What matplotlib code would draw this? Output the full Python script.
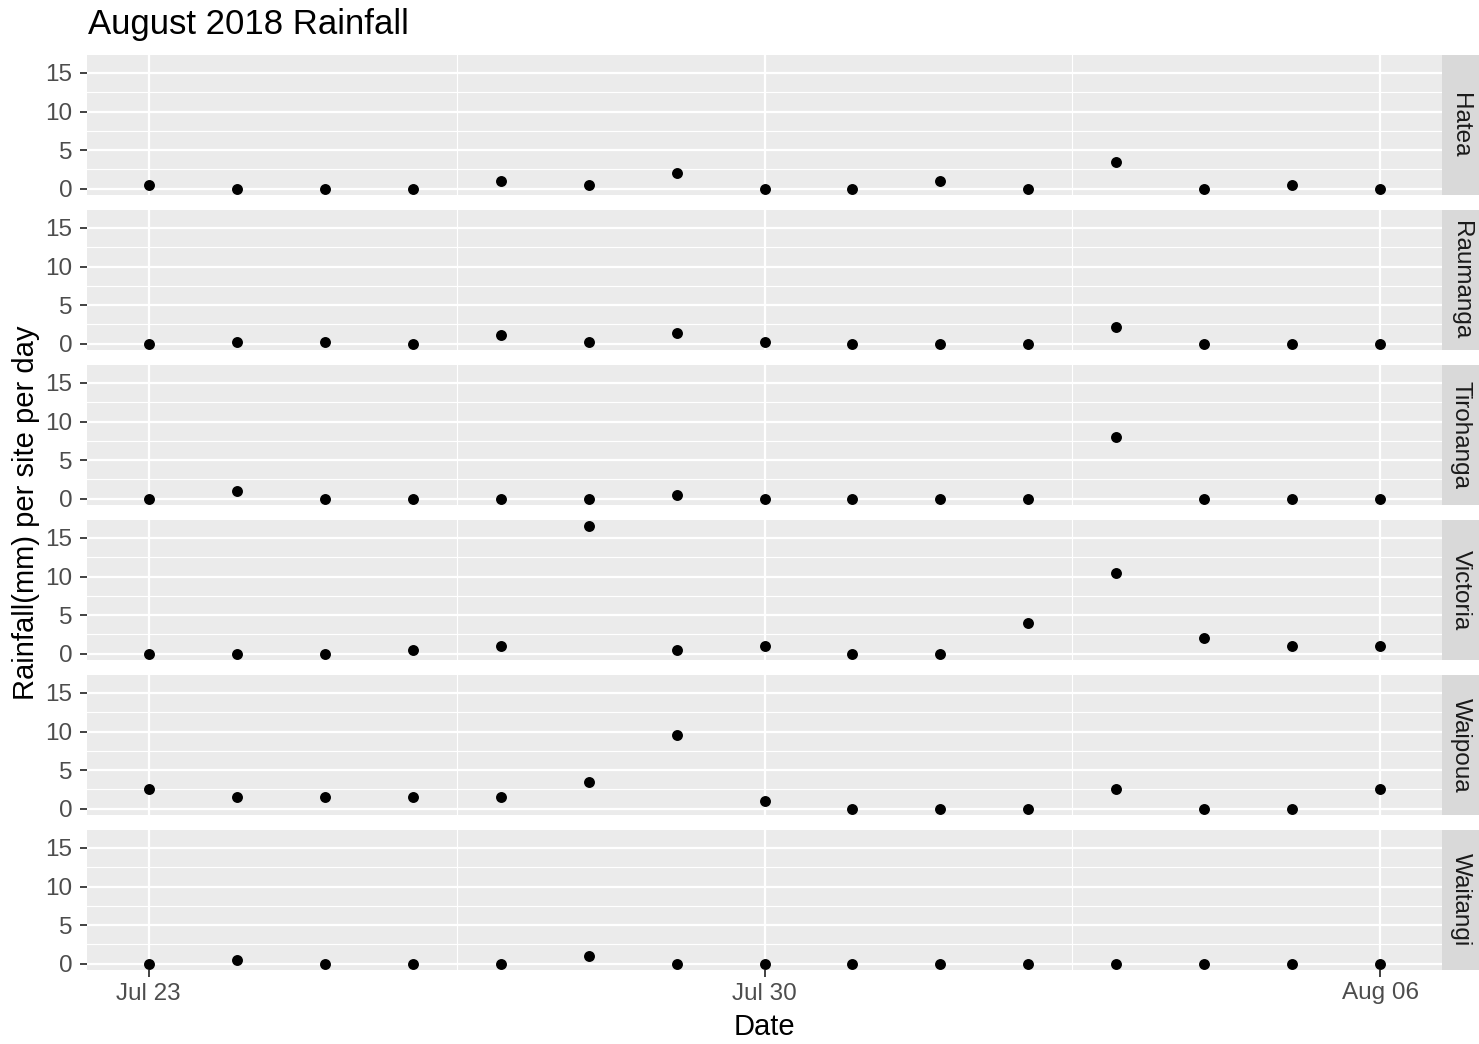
import numpy as np
import matplotlib
matplotlib.use("Agg")
import matplotlib.pyplot as plt
import matplotlib.dates as mdates
from matplotlib.ticker import FixedLocator

plt.rcParams['font.family'] = ['Liberation Sans', 'DejaVu Sans']

# ---- data ----
dates = ["2018-07-23", "2018-07-24", "2018-07-25", "2018-07-26", "2018-07-27",
         "2018-07-28", "2018-07-29", "2018-07-30", "2018-07-31", "2018-08-01",
         "2018-08-02", "2018-08-03", "2018-08-04", "2018-08-05", "2018-08-06"]
sites = ["Hatea", "Raumanga", "Tirohanga", "Victoria", "Waipoua", "Waitangi"]
hatea     = [0.5, 0, 0, 0, 1, 0.5, 2, 0, 0, 1, 0, 3.5, 0, 0.5, 0]
raumanga  = [0, 0.2, 0.2, 0, 1.1, 0.2, 1.4, 0.2, 0, 0, 0, 2.1, 0, 0, 0]
tirohanga = [0, 1, 0, 0, 0, 0, 0.5, 0, 0, 0, 0, 8, 0, 0, 0]
victoria  = [0, 0, 0, 0.5, 1, 16.5, 0.5, 1, 0, 0, 4, 10.5, 2, 1, 1]
waipoua   = [2.5, 1.5, 1.5, 1.5, 1.5, 3.5, 9.5, 1, 0, 0, 0, 2.5, 0, 0, 2.5]
waitangi  = [0, 0.5, 0, 0, 0, 1, 0, 0, 0, 0, 0, 0, 0, 0, 0]
series = [hatea, raumanga, tirohanga, victoria, waipoua, waitangi]
x_major = ["2018-07-23", "2018-07-30", "2018-08-06"]
x_major_labels = ["Jul 23", "Jul 30", "Aug 06"]
x_minor = ["2018-07-26 12:00", "2018-08-02 12:00"]
y_major = [0, 5, 10, 15]
y_minor = [2.5, 7.5, 12.5]

xd = mdates.date2num(np.array(dates, dtype="datetime64[m]"))
xmaj = mdates.date2num(np.array(x_major, dtype="datetime64[m]"))
xmin_ = mdates.date2num(np.array(x_minor, dtype="datetime64[m]"))

W, H = 1479, 1044
fig = plt.figure(figsize=(W / 100, H / 100), dpi=100)

left, right, top, ph, gap = 87, 1442, 55, 140, 15
strip_w = 37

allv = np.concatenate([np.array(s, float) for s in series])
ymin, ymax = allv.min(), allv.max()
yexp = 0.05 * (ymax - ymin)
xexp = 0.05 * (xd.max() - xd.min())

bg = "#EBEBEB"
for i, (site, vals) in enumerate(zip(sites, series)):
    y0 = top + i * (ph + gap)
    ax = fig.add_axes([left / W, 1 - (y0 + ph) / H, (right - left) / W, ph / H])
    ax.set_facecolor(bg)
    for sp in ax.spines.values():
        sp.set_visible(False)
    ax.set_xlim(xd.min() - xexp, xd.max() + xexp)
    ax.set_ylim(ymin - yexp, ymax + yexp)
    ax.xaxis.set_major_locator(FixedLocator(xmaj))
    ax.xaxis.set_minor_locator(FixedLocator(xmin_))
    ax.yaxis.set_major_locator(FixedLocator(y_major))
    ax.yaxis.set_minor_locator(FixedLocator(y_minor))
    ax.grid(which="major", color="white", linewidth=1.6)
    ax.grid(which="minor", color="white", linewidth=0.8)
    ax.set_axisbelow(True)
    ax.tick_params(which="minor", length=0)
    ax.tick_params(which="major", length=5, width=1.3, color="#333333",
                   labelcolor="#4D4D4D", labelsize=17.5, pad=5.5)
    ax.set_yticklabels([str(v) for v in y_major])
    if i == len(sites) - 1:
        ax.set_xticklabels(x_major_labels)
        ax.tick_params(axis="x", pad=4)
    else:
        ax.tick_params(axis="x", length=0, labelbottom=False)
    ax.scatter(xd, vals, s=62, color="black", zorder=3, linewidths=0)

    sax = fig.add_axes([right / W, 1 - (y0 + ph) / H, strip_w / W, ph / H])
    sax.set_facecolor("#D9D9D9")
    for sp in sax.spines.values():
        sp.set_visible(False)
    sax.set_xticks([])
    sax.set_yticks([])
    sax.text(0.5, 0.5, site, rotation=-90, ha="center", va="center",
             color="#1A1A1A", fontsize=17.5, transform=sax.transAxes)

fig.text(88 / W, 1 - 34 / H, "August 2018 Rainfall", fontsize=25,
         ha="left", va="baseline", color="black")
fig.text(((left + right) / 2) / W, 1 - 1027 / H, "Date", fontsize=21,
         ha="center", va="center", color="black")
fig.text(26 / W, 1 - ((top + top + 6 * ph + 5 * gap) / 2) / H,
         "Rainfall(mm) per site per day", fontsize=21, rotation=90,
         ha="center", va="center", color="black")

fig.savefig("out.png", dpi=100, facecolor="white")
